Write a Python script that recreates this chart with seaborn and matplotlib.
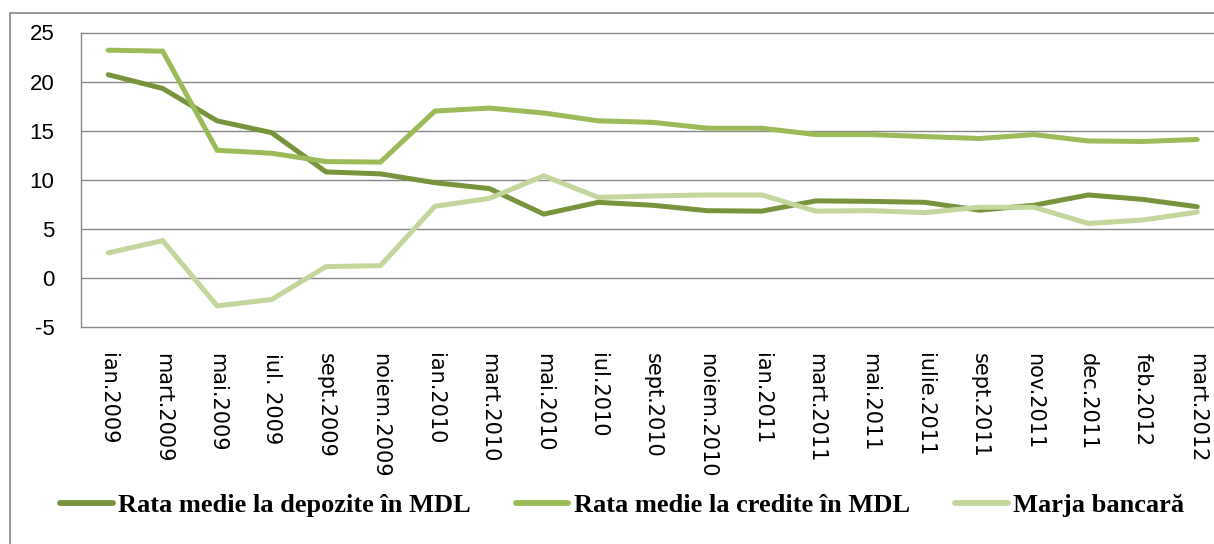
import matplotlib
matplotlib.use("Agg")
import matplotlib.pyplot as plt
from matplotlib.patches import Rectangle
import seaborn as sns
import pandas as pd

months = ["ian.2009", "mart.2009", "mai.2009", "iul. 2009", "sept.2009", "noiem.2009",
          "ian.2010", "mart.2010", "mai.2010", "iul.2010", "sept.2010", "noiem.2010",
          "ian.2011", "mart.2011", "mai.2011", "iulie.2011", "sept.2011", "nov.2011",
          "dec.2011", "feb.2012", "mart.2012"]

depozite = [20.7, 19.3, 16.0, 14.8, 10.8, 10.6, 9.7, 9.1, 6.5, 7.7, 7.4, 6.85,
            6.8, 7.85, 7.8, 7.7, 6.9, 7.4, 8.45, 8.0, 7.25]
credite = [23.2, 23.1, 13.0, 12.7, 11.85, 11.8, 17.0, 17.3, 16.8, 16.0, 15.85, 15.25,
           15.25, 14.6, 14.6, 14.4, 14.2, 14.6, 13.95, 13.9, 14.1]
marja = [2.55, 3.8, -2.85, -2.2, 1.15, 1.25, 7.3, 8.1, 10.4, 8.2, 8.35, 8.45,
         8.45, 6.8, 6.85, 6.65, 7.2, 7.2, 5.55, 5.9, 6.7]

series_names = ["Rata medie la depozite în MDL", "Rata medie la credite în MDL", "Marja bancară"]
colors = ["#77933C", "#9BBB59", "#C3D69B"]
yticks = [-5, 0, 5, 10, 15, 20, 25]

rows = []
for name, vals in zip(series_names, [depozite, credite, marja]):
    for i, v in enumerate(vals):
        rows.append({"idx": i, "val": v, "serie": name})
df = pd.DataFrame(rows)

sns.set_style("white")
W, H = 1214, 544
fig = plt.figure(figsize=(W / 100, H / 100), dpi=100)
ax = fig.add_axes([81 / W, 1 - 327 / H, (W - 81) / W, (327 - 32.5) / H])

sns.lineplot(data=df, x="idx", y="val", hue="serie", palette=dict(zip(series_names, colors)),
             hue_order=series_names, linewidth=3.6, ax=ax, legend=False,
             solid_capstyle="round", solid_joinstyle="miter")

ax.set_ylim(-5, 25)
ax.set_xlim(-0.5, -0.5 + (W - 81) / 54.45)
ax.set_yticks(yticks)
ax.yaxis.grid(True, color="#868686", linewidth=1.0)
for gl in ax.get_ygridlines():
    gl.set_clip_on(False)
ax.set_axisbelow(True)
for s in ["top", "right", "bottom"]:
    ax.spines[s].set_visible(False)
ax.spines["left"].set_color("#868686")
ax.spines["left"].set_linewidth(1.0)
ax.set_xlabel("")
ax.set_ylabel("")

ax.set_xticks(range(len(months)))
ax.set_xticklabels(months, rotation=270, family=["Liberation Sans Narrow", "DejaVu Sans"],
                   fontsize=15, va="top", ha="center", color="black")
ax.set_yticklabels([str(t) for t in yticks], family=["Liberation Sans", "DejaVu Sans"],
                   fontsize=16, color="black")
ax.tick_params(axis="both", length=0)
ax.tick_params(axis="y", pad=19)
ax.tick_params(axis="x", pad=19)

handles = [plt.Line2D([], [], color=c, linewidth=4.2, solid_capstyle="round") for c in colors]
leg = fig.legend(handles, series_names, loc="center", bbox_to_anchor=(622 / W, 1 - 505 / H),
                 ncol=3, frameon=False, handlelength=2.0, handletextpad=0.2, columnspacing=1.7,
                 prop={"family": ["Liberation Serif", "DejaVu Serif"], "weight": "bold", "size": 19})
for t in leg.get_texts():
    t.set_color("black")

fig.patches.append(Rectangle((10 / W, -0.1), 2, 1.1 - 13 / H, transform=fig.transFigure,
                             fill=False, edgecolor="#868686", linewidth=1.2))

fig.savefig("out.png", dpi=100)
